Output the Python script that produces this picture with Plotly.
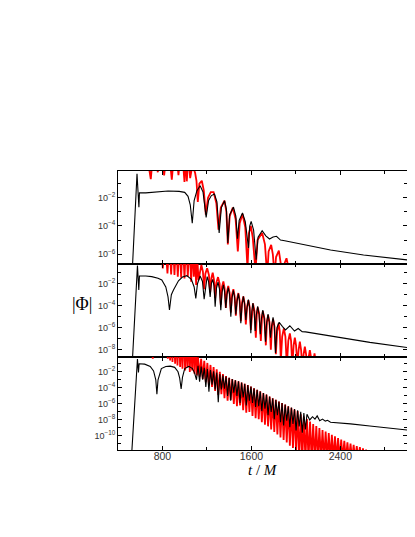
import plotly.graph_objects as go
from plotly.subplots import make_subplots

# values; y stored as log10|Phi|

# --- top panel ---
top_black_t = [530, 571, 588, 593, 650, 750, 850, 950, 1000, 1030, 1050, 1068, 1085, 1110,
               1139, 1165, 1193, 1215, 1240, 1268, 1290, 1310, 1330, 1358, 1375, 1388, 1405,
               1439, 1460, 1475, 1490, 1520, 1545, 1574, 1585, 1598, 1620, 1643, 1660, 1697,
               1730, 1763, 1795, 1826, 1862, 1900, 2012, 2312, 2609, 3000]
top_black_L = [-6.9, -0.30, -2.68, -1.65, -1.66, -1.57, -1.53, -1.55, -1.62, -1.9, -2.5, -3.8, -2.2, -1.5,
               -1.15, -1.6, -3.39, -2.2, -1.85, -1.74, -2.3, -4.5, -2.7, -2.21, -2.8, -5.2, -3.2,
               -2.66, -3.3, -4.9, -3.6, -3.08, -3.7, -5.55, -4.0, -3.67, -4.3, -6.38, -4.8, -4.33,
               -4.7, -4.92, -4.78, -4.73, -5.0, -5.05, -5.22, -5.70, -6.05, -6.40]

top_red_t = [640, 695, 725, 758, 787, 815, 850, 884, 914, 944, 971, 998, 1009, 1019, 1034, 1049,
             1070, 1094, 1106, 1118, 1132, 1154, 1172, 1190, 1210, 1235, 1260, 1285, 1304, 1325,
             1358, 1375, 1388, 1405, 1433, 1458, 1478, 1495, 1520, 1545, 1565, 1578, 1595, 1612,
             1637, 1655, 1697, 1722, 1742, 1755, 1778, 1793, 1808, 1822, 1847, 1863, 1880, 1895,
             1916, 1930, 1943]
top_red_L = [2.0, -0.68, 2.0, -0.2, 2.0, -0.42, 2.0, -0.73, 2.0, -0.4, 2.0, -0.89, 1.0, -0.84, 1.0, -0.61,
             0.3, -0.25, -0.8, -2.3, -1.0, -0.8, -1.5, -3.2, -2.0, -1.6, -1.6, -2.4, -4.26, -2.7,
             -2.2, -3.0, -5.3, -3.3, -2.7, -3.5, -5.8, -3.8, -3.15, -4.1, -7.0, -4.5, -4.0, -4.8,
             -7.2, -5.0, -4.5, -5.3, -7.5, -5.8, -5.34, -6.0, -7.5, -6.2, -5.74, -6.4, -7.5, -6.7,
             -6.28, -6.8, -7.5]

# --- middle panel ---
mid_black_t = [530, 575, 587, 593, 650, 704, 760, 794, 830, 850, 863, 880, 899, 944, 980, 1019,
               1060, 1085, 1100, 1115, 1139, 1160, 1175, 1190, 1202, 1215, 1229, 1240, 1252, 1264,
               1274, 1286, 1300, 1313, 1325, 1336, 1348, 1359, 1370, 1380, 1392, 1404, 1415, 1426,
               1438, 1450, 1460, 1471, 1483, 1494, 1505, 1516, 1528, 1540, 1550, 1561, 1573, 1585,
               1595, 1604, 1614, 1625, 1634, 1645, 1657, 1669, 1680, 1691, 1703, 1715, 1727, 1738,
               1750, 1761, 1772, 1783, 1795, 1806, 1817, 1830, 1850, 1880, 1907, 1946, 1988, 2021,
               2057, 2087, 2222, 2492, 2666, 3000]
mid_black_L = [-8.9, -0.36, -2.57, -1.30, -1.30, -1.36, -1.5, -1.66, -2.3, -3.2, -4.39, -3.0, -2.57, -1.73, -1.4, -1.27,
               -1.6, -2.3, -3.33, -2.0, -1.3, -1.8, -3.4, -1.9, -1.36, -1.8, -3.2, -2.0, -1.6, -2.2,
               -4.1, -2.4, -1.85, -2.5, -4.4, -2.8, -2.1, -2.7, -4.2, -3.0, -2.35, -3.0, -5.0, -3.3,
               -2.6, -3.3, -4.8, -3.6, -2.9, -3.6, -5.6, -3.9, -3.15, -3.9, -5.3, -4.2, -3.45, -4.2,
               -6.5, -4.5, -3.75, -4.5, -6.3, -4.8, -4.05, -4.8, -6.6, -5.1, -4.4, -5.1, -7.27, -5.5,
               -4.75, -5.5, -6.9, -5.8, -5.05, -5.8, -8.3, -6.0, -5.5, -5.9, -6.2, -5.82, -6.3, -6.07,
               -6.36, -6.38, -6.6, -7.03, -7.33, -7.8]

mid_red_t = [790, 803, 824, 845, 862, 878, 893, 908, 923, 938, 953, 968, 983, 998, 1013, 1028,
             1043, 1058, 1070, 1082, 1092, 1103, 1113, 1124,
             1150, 1164, 1175, 1186, 1202, 1218, 1229, 1240, 1252, 1263, 1274, 1285, 1300, 1314,
             1325, 1336, 1348, 1359, 1370, 1381, 1392, 1404, 1415, 1426, 1438, 1449, 1460, 1471,
             1483, 1494, 1505, 1516, 1528, 1539, 1550, 1561, 1573, 1584, 1595, 1605, 1614, 1628,
             1640, 1649, 1657, 1672, 1685, 1695, 1703, 1718, 1730, 1740, 1750, 1763, 1775, 1785,
             1795, 1808, 1820, 1832, 1845, 1855, 1865, 1877, 1892, 1906, 1919, 1932, 1946, 1957,
             1968, 1980, 1991, 2002, 2013, 2025, 2036, 2047, 2058, 2070, 2081, 2092, 2103, 2115,
             2126, 2137, 2147, 2158, 2168, 2178, 2188, 2198, 2207, 2218, 2230]
mid_red_L = [2.0, -0.61, 2.0, -1.07, 2.0, -1.15, 2.0, -1.21, 2.0, -1.36, 2.0, -1.45, 2.0, -1.52, 2.0, -1.36,
             2.0, -1.82, 1.5, -1.36, 1.0, -2.12, 0.5, -1.67,
             -0.3, -0.9, -2.5, -1.1, -0.6, -1.2, -2.8, -1.5, -1.0, -1.6, -3.3, -1.9, -1.4, -2.0,
             -3.9, -2.3, -1.8, -2.4, -4.2, -2.7, -2.2, -2.8, -4.6, -3.0, -2.5, -3.1, -4.9, -3.4,
             -2.85, -3.5, -5.4, -3.7, -3.15, -3.8, -5.7, -4.1, -3.5, -4.1, -6.2, -4.4, -3.8, -4.5,
             -6.9, -4.8, -4.15, -4.8, -7.2, -5.2, -4.5, -5.2, -7.6, -5.5, -4.85, -5.5, -8.0, -5.9,
             -5.2, -5.9, -8.4, -6.3, -5.6, -6.3, -9.0, -6.8, -6.06, -6.8, -9.5, -7.2, -6.52, -7.2,
             -9.5, -7.6, -6.91, -7.6, -9.5, -8.0, -7.27, -8.0, -9.5, -8.4, -7.73, -8.4, -9.5, -8.7,
             -8.03, -8.7, -9.5, -9.0, -8.33, -9.0, -9.5, -9.3, -8.64, -9.3, -9.5]

# --- bottom panel ---
bot_black_t = [522, 575, 584, 590, 640, 690, 720, 740, 750, 760, 790, 830, 870, 910, 940, 955, 968,
               980, 1000, 1037, 1070, 1090, 1106,
               1120, 1134, 1148, 1162, 1176, 1190, 1204, 1218, 1232, 1246, 1260, 1274, 1288, 1302,
               1316, 1330, 1344, 1358, 1372, 1386, 1400, 1414, 1428, 1442, 1456, 1470, 1484, 1498,
               1512, 1526, 1540, 1554, 1568, 1582, 1596, 1610, 1624, 1638, 1652, 1666, 1680, 1694,
               1708, 1722, 1736, 1750, 1764, 1778, 1792, 1806, 1820, 1834, 1848, 1862, 1876, 1890,
               1904, 1918, 1932, 1946, 1960, 1974, 1988, 2002, 2016, 2030, 2044, 2058, 2072, 2086,
               2100, 2125, 2150, 2172, 2192, 2215, 2240, 2265, 2285, 2312, 2372, 2492, 2666, 3000]
bot_black_L = [-12.5, -0.4, -2.1, -1.0, -1.05, -1.33, -1.9, -3.0, -4.8, -3.0, -1.6, -1.35, -1.3, -1.45, -2.0, -2.8, -4.15,
               -2.7, -1.6, -1.33, -1.6, -2.2, -3.0,
               -1.25, -3.25, -1.35, -3.0, -1.5, -3.9, -1.65, -4.5, -1.8, -3.6, -1.95, -4.2, -2.1, -5.8,
               -2.3, -4.2, -2.45, -4.1, -2.6, -5.0, -2.75, -5.6, -2.9, -4.6, -3.05, -5.0, -3.2, -5.9,
               -3.35, -5.2, -3.5, -6.2, -3.65, -5.6, -3.85, -5.9, -4.05, -6.4, -4.25, -6.3, -4.45, -6.9,
               -4.65, -6.6, -4.85, -7.4, -5.1, -7.0, -5.3, -7.9, -5.5, -7.4, -5.7, -8.3, -5.9, -8.7,
               -6.1, -8.1, -6.3, -8.9, -6.45, -8.5, -6.65, -9.3, -6.8, -8.8, -7.0, -9.6, -7.15, -9.2,
               -7.3, -8.0, -7.6, -7.9, -7.5, -8.1, -7.9, -8.15, -8.05, -8.3, -8.35, -8.5, -8.75, -9.25]

bot_red_t = [700, 713, 726, 835, 848, 858, 869, 880, 890, 902, 914, 925, 935, 947, 959, 970, 980,
             992, 1004, 1015, 1025, 1036, 1046, 1057, 1067, 1078, 1088, 1099, 1109,
             1120, 1134, 1148, 1162, 1176, 1190, 1204, 1218, 1232, 1246, 1260, 1274, 1288, 1302,
             1316, 1330, 1344, 1358, 1372, 1386, 1400, 1414, 1428, 1442, 1456, 1470, 1484, 1498,
             1512, 1526, 1540, 1554, 1568, 1582, 1596, 1610, 1624, 1638, 1652, 1666, 1680, 1694,
             1708, 1722, 1736, 1750, 1764, 1778, 1792, 1806, 1820, 1834, 1848, 1862, 1876, 1890,
             1904, 1918, 1932, 1946, 1960, 1974, 1988, 2002, 2016, 2030, 2044, 2058, 2072, 2086,
             2100, 2114, 2128, 2142, 2156, 2170, 2184, 2198, 2212, 2226, 2240, 2254, 2268, 2282,
             2296, 2310, 2324, 2338, 2352, 2366, 2380, 2394, 2408, 2422, 2436, 2450, 2464, 2478,
             2492, 2506, 2520, 2534, 2548, 2562, 2576, 2590, 2604, 2618, 2632, 2646, 2660, 2674]
bot_red_L = [3.0, -0.38, 3.0, 3.0, -0.38, 3.0, -0.59, 3.0, -0.79, 3.0, -1.0, 3.0, -1.21, 3.0, -1.41, 3.0, -1.63,
             3.0, -1.84, 3.0, -1.41, 3.0, -2.04, 3.0, -1.84, 3.0, -2.25, 3.0, -2.46,
             -0.2, -2.6, -0.4, -2.9, -0.65, -3.3, -0.9, -3.7, -1.15, -3.9, -1.4, -4.4, -1.7, -4.9,
             -2.0, -4.8, -2.3, -5.3, -2.55, -5.6, -2.75, -5.5, -2.9, -6.0, -3.05, -6.3, -3.2, -6.2,
             -3.35, -6.8, -3.5, -7.1, -3.65, -7.0, -3.85, -7.5, -4.05, -7.8, -4.25, -7.9, -4.45, -8.3,
             -4.65, -8.6, -4.85, -8.8, -5.1, -9.2, -5.3, -9.5, -5.5, -9.8, -5.7, -10.2, -5.9, -10.5,
             -6.1, -10.8, -6.3, -11.2, -6.5, -11.5, -6.7, -12.0, -6.9, -13.0, -7.3, -13.0, -7.6, -13.0,
             -7.9, -13.0, -8.2, -13.0, -8.5, -13.0, -8.75, -13.0, -9.0, -13.0, -9.25, -13.0, -9.45, -13.0,
             -9.65, -13.0, -9.85, -13.0, -10.05, -13.0, -10.25, -13.0, -10.45, -13.0, -10.6, -13.0, -10.8, -13.0,
             -10.95, -13.0, -11.1, -13.0, -11.25, -13.0, -11.4, -13.0, -11.55, -13.0, -11.7, -13.0, -11.85, -13.0]

# axis setup
x_range = [400, 3000]
y_ranges = [[-6.69, -0.11], [-8.66, -0.21], [-11.75, -0.16]]
y_major = [[-2, -4, -6], [-2, -4, -6, -8], [-2, -4, -6, -8, -10]]
y_minor = [[-1, -3, -5], [-1, -3, -5, -7], [-1, -3, -5, -7, -9, -11]]
x_major = [800, 1600, 2400]
x_minor = [1200, 2000, 2800]

panels = [
    (top_black_t, top_black_L, top_red_t, top_red_L),
    (mid_black_t, mid_black_L, mid_red_t, mid_red_L),
    (bot_black_t, bot_black_L, bot_red_t, bot_red_L),
]


def unlog(vals):
    return [10 ** v for v in vals]


fig = make_subplots(rows=3, cols=1, shared_xaxes=True, vertical_spacing=0)

for i, (bt, bl, rt, rl) in enumerate(panels, start=1):
    fig.add_trace(go.Scatter(
        x=rt, y=unlog(rl), mode="lines",
        line=dict(color="#ff0000", width=1.8),
    ), row=i, col=1)
    fig.add_trace(go.Scatter(
        x=bt, y=unlog(bl), mode="lines",
        line=dict(color="#000000", width=1.1),
    ), row=i, col=1)

    fig.update_yaxes(
        type="log", range=y_ranges[i - 1],
        tickvals=unlog(y_major[i - 1]),
        ticktext=[f"10<sup>\u2212{-e}</sup>" for e in y_major[i - 1]],
        ticks="inside", ticklen=4, tickcolor="black",
        minor=dict(tickvals=unlog(y_minor[i - 1]), ticks="inside", ticklen=3, tickcolor="black"),
        showline=True, linecolor="black", linewidth=1, mirror="ticks",
        showgrid=False, zeroline=False,
        tickfont=dict(family="Liberation Sans, Arial", size=9, color="#333"),
        row=i, col=1,
    )
    fig.update_xaxes(
        range=x_range,
        tickvals=x_major, ticktext=[str(v) for v in x_major],
        ticks="inside", ticklen=4, tickcolor="black",
        minor=dict(tickvals=x_minor, ticks="inside", ticklen=3, tickcolor="black"),
        showline=True, linecolor="black", linewidth=1, mirror="ticks",
        showgrid=False, zeroline=False,
        showticklabels=(i == 3), ticklabelstandoff=-4,
        tickfont=dict(family="Liberation Sans, Arial", size=10.5, color="#333"),
        row=i, col=1,
    )

# axis titles placed as annotations
fig.add_annotation(
    text="|\u03a6|", xref="paper", yref="paper", x=-0.125, y=0.523,
    xanchor="center", showarrow=False,
    font=dict(family="Liberation Serif, Times New Roman", size=18, color="black"),
)
fig.add_annotation(
    text="<i>t</i> / <i>M</i>", xref="paper", yref="paper", x=0.5, y=-0.072,
    yanchor="middle", showarrow=False, borderpad=0,
    font=dict(family="Liberation Serif, Times New Roman", size=15, color="black"),
)

# the page body has an 8px margin: figure is 407x529 drawn at (8, 8),
# so the plot area lands on x 118..407, y 171..450 of the window
fig.update_layout(
    width=407, height=529,
    margin=dict(l=110, r=8, t=163, b=87),
    plot_bgcolor="white", paper_bgcolor="white",
    showlegend=False,
)

fig.write_html("out.html")
